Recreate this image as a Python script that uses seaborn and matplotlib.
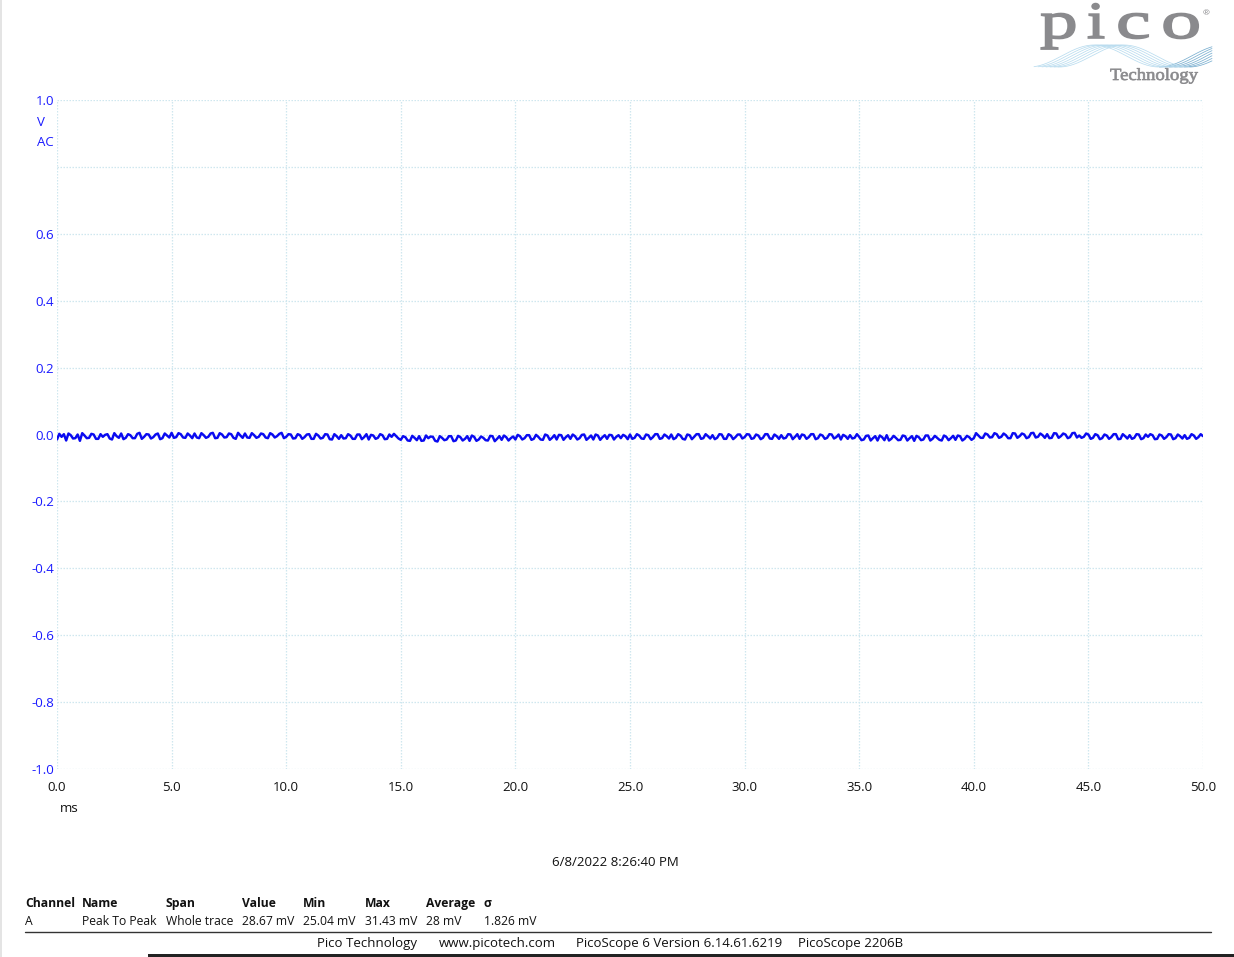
import numpy as np
import pandas as pd
import matplotlib
matplotlib.use("Agg")
import matplotlib.pyplot as plt
import matplotlib.transforms as mtransforms
from matplotlib.textpath import TextPath
from matplotlib.patches import PathPatch
from matplotlib.font_manager import FontProperties
import seaborn as sns

# ---- data, trace values in mV ----
# level of the trace centre relative to 0 V
trace_level_mv = -5
# samples at even 0.2 ms steps
trace_mv = [
    -10, -2, -13, 3, -6, -14, 2, -5, 5, -8, -2, 6, -10, 0, 8, -5, 3, -6, 10, -2, 5, -3, 8, -6, 2,
    10, -3, 6, -5, 2, 8, -6, 3, -2, 10, -5, 5, -3, 6, -8, 2, 8, -5, 3, -2, 6, -6, 5, 0, 10,
    -2, 5, -6, 3, -3, 6, -8, 2, -5, 5, -10, 0, 3, -6, 2, -8, 5, -3, -10, 2, -5, 3, -8, -2, 0,
    -11, -3, -14, -5, 0, -13, -6, -2, -16, -5, -10, 0, -13, -3, -8, -14, -2, -10, -5, -13, 0, -8, -11, -3, -6,
    -10, 0, -6, 3, -8, -2, -11, 2, -5, -10, 3, -3, -8, 0, -6, 5, -5, -10, 2, -3, -8, 3, -2, -6, 0,
    5, -5, 2, -8, 3, -3, 6, -6, 0, 5, -5, 2, -10, 3, -2, 6, -6, 0, 3, -5, 5, -8, 2, -3, 5,
    -3, 5, -6, 2, -5, 6, -8, 0, 3, -5, 5, -2, -8, 3, -3, 6, -6, 2, -5, 5, -3, -10, 0, 3, -5,
    -2, -10, 2, -6, -13, -3, 3, -8, -5, -11, 0, -6, -14, -3, -10, 2, -8, -5, -13, -2, -6, -11, 0, -8, -3,
    -6, 2, -5, 5, -3, 6, -2, 3, -6, 8, 0, 5, -3, 10, -2, 3, 6, -5, 8, 0, 5, -3, 10, 2, -2,
    5, -5, 3, -6, 2, -3, 6, -8, 0, 3, -5, 5, -6, -2, 3, -8, 2, -3, 5, -6, 0, 3, -5, 2, -3, 0,
]
# samples in between (odd 0.1 ms steps)
trace_mid_mv = [
    7, 6, 8, -7, 5, 9, -6, 7, -8, 6, 4, -7, 9, -5, -9, 6, -6, 7, -8, 6, -7, 5, -9, 8, -4,
    -5, 9, -4, 8, -6, -4, 9, -5, 8, -6, 9, -4, 8, -5, 10, -5, -4, 9, -5, 8, -4, 9, -4, 7, -6,
    6, -7, 6, -8, 5, -8, 7, -7, 6, -9, 6, -8, -7, 6, -8, 5, -9, 6, 4, -8, 6, -9, 5, 7, -7,
    0, -13, 1, -12, -14, 2, -1, -14, 0, -12, 0, -15, 1, -13, 0, 2, -14, -1, -12, 1, -15, 0, 2, -13, -1,
    4, -10, 3, -11, 4, -10, 5, -11, 3, 4, -11, 3, 5, -10, 4, -11, 2, 5, -11, 3, 4, -10, 3, 4, -9,
    -8, 6, -7, 5, -9, 6, -8, 5, -7, -9, 6, -8, 5, -9, 6, -8, 6, -7, -9, 6, -8, 6, -9, 5, -7,
    6, -8, 5, -9, 6, -7, 5, -8, -7, 6, -9, 6, 5, -8, 6, -9, 5, -8, 6, -7, 5, 4, -8, -7, 6,
    -12, 1, -13, 0, 2, -12, -13, 1, -12, 2, -13, 0, 1, -12, 2, -13, 1, -11, 2, -12, 1, 2, -13, 1, -11,
    9, -5, 8, -4, 9, -5, 8, -6, 9, -5, 8, -6, 9, -4, 8, -5, -6, 9, -5, 8, -6, 9, -4, -5, 8,
    -8, 6, -9, 5, -8, 6, -9, 6, -7, -8, 6, -9, 5, 6, -9, 5, -8, 6, -9, 5, -7, -8, 6, -8, 6,
]
time_span_ms = 50.0
x_ticks = [0.0, 5.0, 10.0, 15.0, 20.0, 25.0, 30.0, 35.0, 40.0, 45.0, 50.0]
y_ticks = [-1.0, -0.8, -0.6, -0.4, -0.2, 0.0, 0.2, 0.4, 0.6, 0.8, 1.0]
y_labels = ["-1.0", "-0.8", "-0.6", "-0.4", "-0.2", "0.0", "0.2", "0.4", "0.6", "", "1.0"]
x_labels = ["0.0", "5.0", "10.0", "15.0", "20.0", "25.0", "30.0", "35.0", "40.0", "45.0", "50.0"]

table_headers = ["Channel", "Name", "Span", "Value", "Min", "Max", "Average", "σ"]
table_row = ["A", "Peak To Peak", "Whole trace", "28.67 mV", "25.04 mV", "31.43 mV", "28 mV", "1.826 mV"]
footer_items = ["Pico Technology", "www.picotech.com", "PicoScope 6 Version 6.14.61.6219", "PicoScope 2206B"]
timestamp = "6/8/2022 8:26:40 PM"

# merge the two sample lists in time order
merged = []
for i, v in enumerate(trace_mv):
    merged.append(v)
    if i < len(trace_mid_mv):
        merged.append(trace_mid_mv[i])

df = pd.DataFrame({
    "t": np.linspace(0, time_span_ms, len(merged)),
    "v": (np.array(merged) + trace_level_mv) / 1000.0,
})

# ---- styling ----
sns.set_theme(style="white")
plt.rcParams["font.family"] = ["Open Sans", "DejaVu Sans"]

W, H = 1234, 957
fig = plt.figure(figsize=(W / 100, H / 100), dpi=100)
fig.patch.set_facecolor("white")

def fx(px):
    return px / W

def fy(py):
    return 1 - py / H

ax = fig.add_axes([fx(57), fy(769), fx(1203 - 57), (769 - 100) / H])
ax.set_facecolor("white")

sns.lineplot(data=df, x="t", y="v", ax=ax, color="#0a0af0", linewidth=1.75)

ax.set_xlim(0, 50)
ax.set_ylim(-1, 1)
for s in ax.spines.values():
    s.set_visible(False)

ax.set_xticks(x_ticks)
ax.set_xticklabels(x_labels)
ax.set_yticks(y_ticks)
ax.set_yticklabels(y_labels)
ax.tick_params(axis="both", length=0)
ax.tick_params(axis="y", colors="#1a1aff", labelsize=9.5, pad=2)
ax.tick_params(axis="x", colors="#111111", labelsize=9.5, pad=8.5)
ax.set_xlabel("")
ax.set_ylabel("")
ax.grid(True, color="#cfe7ef", linestyle=(0, (1.2, 1.2)), linewidth=0.9)
ax.set_axisbelow(True)

# unit labels
fig.text(fx(37), fy(123), "V", color="#1a1aff", fontsize=9.5, va="center", ha="left")
fig.text(fx(37), fy(143), "AC", color="#1a1aff", fontsize=9.5, va="center", ha="left")
fig.text(fx(60), fy(809), "ms", color="#111111", fontsize=9.5, va="center", ha="left")

# timestamp
fig.text(fx(615), fy(863), timestamp, color="#111111", fontsize=9.5, ha="center", va="center")

# measurement table
col_x = [25, 82, 166, 242, 303, 365, 426, 484]
for cx, h, r in zip(col_x, table_headers, table_row):
    fig.text(fx(cx), fy(907), h, fontsize=8.7, fontweight="bold", color="#111111", ha="left", va="baseline")
    fig.text(fx(cx), fy(925), r, fontsize=8.7, color="#111111", ha="left", va="baseline")

fig.add_artist(plt.Line2D([fx(25), fx(1211)], [fy(932), fy(932)], color="#333333", linewidth=1.0))

foot_x = [317, 439, 576, 798]
for cx, t in zip(foot_x, footer_items):
    fig.text(fx(cx), fy(947), t, fontsize=9.5, color="#111111", ha="left", va="baseline")

# bottom dark bar and left edge strip
fig.add_artist(plt.Rectangle((fx(148), 0), 1 - fx(148), 3 / H, color="#222222", linewidth=0))
fig.add_artist(plt.Rectangle((0, 0), 2 / W, 1, color="#e4e4e4", linewidth=0))

# ---- logo ----
serif = FontProperties(family=["Liberation Serif", "DejaVu Serif"])
logo_gray = "#8a8a8d"

def pix_text(s, x0, baseline, size, sx, color, prop, lw=0.4):
    tp = TextPath((0, 0), s, size=size, prop=prop)
    tr = (mtransforms.Affine2D().scale(sx, 1.0).translate(x0, H - baseline)
          + mtransforms.Affine2D().scale(1.0 / W, 1.0 / H) + fig.transFigure)
    fig.add_artist(PathPatch(tp, transform=tr, facecolor=color, edgecolor=color, linewidth=lw))

# waves (drawn first, behind text)
for k in range(7):
    c = 1094 + 5 * k
    P = 130.0
    xs = np.linspace(1034 + 4 * k, 1212, 200)
    ys = 56 - 11 * np.cos(2 * np.pi * (xs - c) / P)
    trough = c + P / 2
    left = xs <= trough
    fig.add_artist(plt.Line2D(fx(xs[left]), fy(ys[left]), color="#b9dcef", linewidth=0.55))
    fig.add_artist(plt.Line2D(fx(xs[~left]), fy(ys[~left]), color="#7aafd0", linewidth=0.55))

pix_text("p", 1040, 38, 52, 1.45, logo_gray, serif, lw=1.2)
pix_text("i", 1087, 38, 52, 1.25, logo_gray, serif, lw=1.2)
pix_text("c", 1116, 38, 52, 1.5, logo_gray, serif, lw=1.2)
pix_text("o", 1161, 38, 52, 1.55, logo_gray, serif, lw=1.2)
fig.text(fx(1203), fy(14), "®", fontsize=6, color=logo_gray, ha="left", va="center")
pix_text("Technology", 1110, 80, 17, 1.1, logo_gray, serif, lw=0.5)

fig.savefig("out.png", dpi=100, facecolor="white")
